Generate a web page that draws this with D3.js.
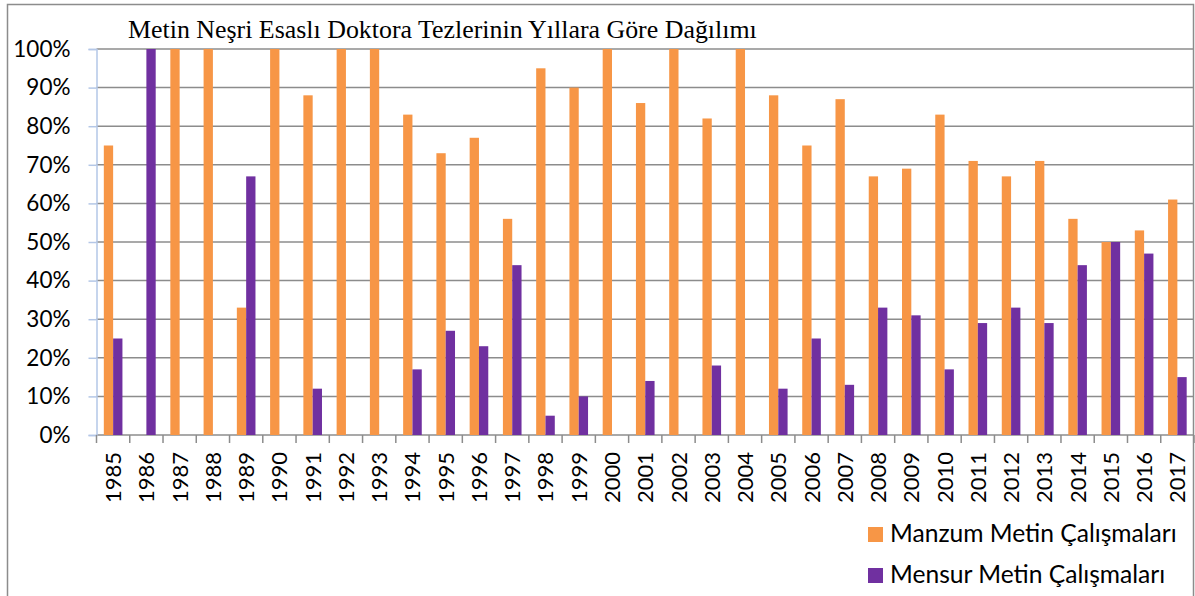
<!DOCTYPE html>
<html>
<head>
<meta charset="utf-8">
<script src="https://cdn.jsdelivr.net/npm/d3@7"></script>
<style>
  body { margin: 0; background: #fff; }
</style>
</head>
<body>
<script>
var years = ['1985', '1986', '1987', '1988', '1989', '1990', '1991', '1992', '1993', '1994', '1995',
  '1996', '1997', '1998', '1999', '2000', '2001', '2002', '2003', '2004', '2005', '2006',
  '2007', '2008', '2009', '2010', '2011', '2012', '2013', '2014', '2015', '2016', '2017'];
var manzum = [75, 0, 100, 100, 33, 100, 88, 100, 100, 83, 73,
  77, 56, 95, 90, 100, 86, 100, 82, 100, 88, 75,
  87, 67, 69, 83, 71, 67, 71, 56, 50, 53, 61];
var mensur = [25, 100, 0, 0, 67, 0, 12, 0, 0, 17, 27,
  23, 44, 5, 10, 0, 14, 0, 18, 0, 12, 25,
  13, 33, 31, 17, 29, 33, 29, 44, 50, 47, 15];
var seriesNames = ['Manzum Metin Çalışmaları', 'Mensur Metin Çalışmaları'];
var seriesColors = ['#f79646', '#7030a0'];
var yTicks = [0, 10, 20, 30, 40, 50, 60, 70, 80, 90, 100];
var title = 'Metin Neşri Esaslı Doktora Tezlerinin Yıllara Göre Dağılımı';

var svg = d3.select('body').append('svg')
  .attr('width', 1195)
  .attr('height', 596);

var x0 = d3.scaleBand().domain(years).range([96.5, 1194]).paddingInner(0).paddingOuter(0);
var x1 = d3.scaleBand().domain([0, 1]).range([0, x0.bandwidth()]).paddingInner(0).paddingOuter(0.786);
var y = d3.scaleLinear().domain([0, 100]).range([435, 49]);

// outer frame
svg.append('rect')
  .attr('x', 7.5).attr('y', 4.5)
  .attr('width', 1186).attr('height', 620)
  .style('fill', 'none')
  .style('stroke', '#8c8c8c')
  .style('stroke-width', 1.5);

svg.append('text')
  .attr('x', 128).attr('y', 38)
  .style('font-family', '"Liberation Serif", "Times New Roman", serif')
  .style('font-size', '25.9px')
  .style('fill', '#000')
  .text(title);

// gridlines
svg.append('g').selectAll('line')
  .data(yTicks)
  .enter().append('line')
  .attr('x1', 96.5).attr('x2', 1193)
  .attr('y1', function(d) { return y(d); })
  .attr('y2', function(d) { return y(d); })
  .style('stroke', '#8c8c8c')
  .style('stroke-width', 1.5);

// y axis (light blue)
var yAxis = d3.axisLeft(y).tickValues(yTicks).tickSize(8).tickPadding(18)
  .tickFormat(function(d) { return d + '%'; });
var yg = svg.append('g').attr('transform', 'translate(96.5,0)').call(yAxis);
yg.select('.domain').style('stroke', '#b4c7e7').style('stroke-width', 1.5);
yg.selectAll('.tick line').style('stroke', '#b4c7e7').style('stroke-width', 1.5);
yg.selectAll('.tick text')
  .style('font-family', 'Lato, "Open Sans", sans-serif')
  .style('font-size', '22.5px')
  .style('fill', '#000');

// bars
var groups = svg.append('g').selectAll('g')
  .data(years)
  .enter().append('g')
  .attr('transform', function(d) { return 'translate(' + x0(d) + ',0)'; });

groups.selectAll('rect')
  .data(function(d, i) { return [manzum[i], mensur[i]]; })
  .enter().append('rect')
  .attr('x', function(d, j) { return x1(j); })
  .attr('width', x1.bandwidth())
  .attr('y', function(d) { return y(d); })
  .attr('height', function(d) { return y(0) - y(d); })
  .style('fill', function(d, j) { return seriesColors[j]; });

// x ticks at category boundaries
var edges = years.map(function(d) { return x0(d); }).concat([x0.range()[1]]);
svg.append('g').selectAll('line')
  .data(edges)
  .enter().append('line')
  .attr('x1', function(d) { return d; })
  .attr('x2', function(d) { return d; })
  .attr('y1', 435).attr('y2', 443)
  .style('stroke', '#8c8c8c')
  .style('stroke-width', 1.5);

// x labels rotated
svg.append('g').selectAll('text')
  .data(years)
  .enter().append('text')
  .attr('transform', function(d) {
    return 'translate(' + (x0(d) + x0.bandwidth() / 2 + 8) + ',452) rotate(-90)';
  })
  .attr('text-anchor', 'end')
  .style('font-family', 'Lato, "Open Sans", sans-serif')
  .style('font-size', '22px')
  .style('fill', '#000')
  .text(function(d) { return d; });

// legend
var legend = svg.append('g').selectAll('g')
  .data(seriesNames)
  .enter().append('g')
  .attr('transform', function(d, i) { return 'translate(868,' + (527 + i * 41) + ')'; });

legend.append('rect')
  .attr('width', 15).attr('height', 15)
  .style('fill', function(d, i) { return seriesColors[i]; });

legend.append('text')
  .attr('x', 22).attr('y', 15)
  .style('font-family', 'Lato, "Open Sans", sans-serif')
  .style('font-size', '24.6px')
  .style('fill', '#000')
  .text(function(d) { return d; });
</script>
</body>
</html>
